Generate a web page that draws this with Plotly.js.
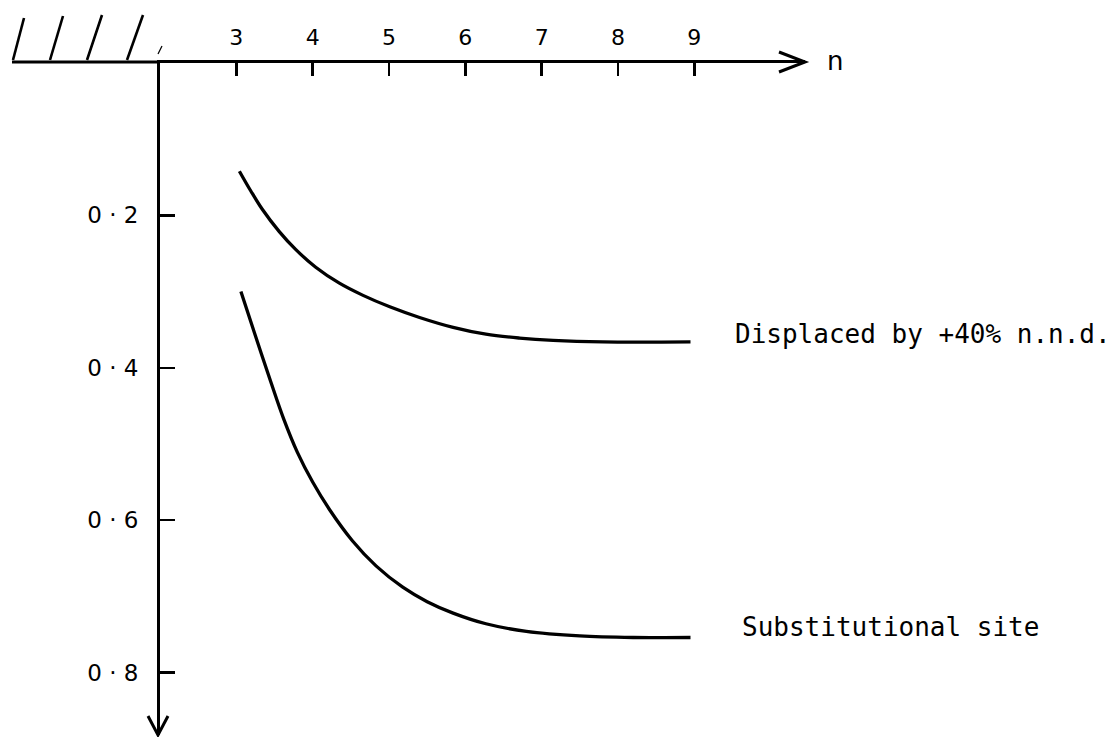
<!DOCTYPE html>
<html>
<head>
<meta charset="utf-8">
<script src="https://cdn.plot.ly/plotly-3.0.1.min.js"></script>
<style>
  html, body { margin: 0; padding: 0; background: #ffffff; }
  #chart { width: 1117px; height: 737px; }
</style>
</head>
<body>
<div id="chart"></div>
<script>
// Number of neighbours n along the top axis, energy shift plotted downward
const nTicks = [3, 4, 5, 6, 7, 8, 9];
const nTickText = ['3', '4', '5', '6', '7', '8', '9'];
const shiftTicks = [0.2, 0.4, 0.6, 0.8];
const shiftTickText = ['0 · 2', '0 · 4', '0 · 6', '0 · 8'];

// Displaced by +40% n.n.d.
const displacedN = [3.04, 3.19, 3.34, 3.56, 3.78, 4.04, 4.35, 4.66, 5.01, 5.40, 5.84, 6.27, 6.71, 7.15, 7.80, 8.95];
const displacedShift = [0.142, 0.168, 0.192, 0.221, 0.245, 0.268, 0.289, 0.305, 0.320, 0.334, 0.347, 0.356, 0.361, 0.364, 0.366, 0.366];

// Substitutional site
const substN = [3.06, 3.25, 3.45, 3.62, 3.80, 4.00, 4.22, 4.52, 4.83, 5.18, 5.50, 5.84, 6.27, 6.80, 7.50, 8.20, 8.95];
const substShift = [0.300, 0.358, 0.418, 0.467, 0.511, 0.550, 0.586, 0.627, 0.660, 0.688, 0.707, 0.722, 0.736, 0.746, 0.752, 0.754, 0.754];

const seriesNames = ['Displaced by +40% n.n.d.', 'Substitutional site'];

const nRange = [2, 10.45];
const shiftRange = [0.882, 0];

const ink = '#000000';
const font = 'DejaVu Sans, Liberation Sans, sans-serif';
const labelFont = 'DejaVu Sans Mono, Liberation Mono, monospace';

const curve = (x, y, name) => ({
  x: x, y: y, name: name, type: 'scatter', mode: 'lines',
  line: { color: ink, width: 3.3, shape: 'spline', smoothing: 1.0 },
  hoverinfo: 'x+y', showlegend: false
});

const traces = [
  curve(displacedN, displacedShift, seriesNames[0]),
  curve(substN, substShift, seriesNames[1])
];

// wall hatching left of the origin and open arrowheads on both axes,
// placed in pixels around corners of the plot area
const px = (anchorX, anchorY, path, w) => ({
  type: 'path', xref: 'paper', yref: 'paper',
  xsizemode: 'pixel', ysizemode: 'pixel',
  xanchor: anchorX, yanchor: anchorY,
  path: path, line: { color: ink, width: w || 3 }
});

const shapes = [
  px(0, 1, 'M-148,1 L0,1', 3),
  px(0, 1, 'M-147,3 L-136,45', 2.6),
  px(0, 1, 'M-110,3 L-97,47', 2.6),
  px(0, 1, 'M-73,3 L-58,48', 2.6),
  px(0, 1, 'M-33,3 L-17,48', 2.6),
  px(0, 1, 'M-2,9 L2,17', 1.2),
  px(1, 1, 'M-26,11 L0,1 L-26,-9', 3),
  px(0, 0, 'M-12,19 L-2,0 L8,19', 3)
];

const last = a => a[a.length - 1];

const annotations = [
  {
    x: last(displacedN), y: last(displacedShift), xref: 'x', yref: 'y',
    text: seriesNames[0], showarrow: false, xanchor: 'left', yanchor: 'middle',
    xshift: 42, yshift: 8, font: { family: labelFont, size: 26, color: ink }
  },
  {
    x: last(substN), y: last(substShift), xref: 'x', yref: 'y',
    text: seriesNames[1], showarrow: false, xanchor: 'left', yanchor: 'middle',
    xshift: 49, yshift: 10, font: { family: labelFont, size: 26, color: ink }
  },
  {
    x: nRange[1], y: 0, xref: 'x', yref: 'y',
    text: 'n', showarrow: false, xanchor: 'left', yanchor: 'middle',
    xshift: 20, yshift: 2, font: { family: font, size: 26, color: ink }
  }
];

const layout = {
  width: 1117, height: 737,
  margin: { l: 160, r: 312, t: 63, b: 2 },
  paper_bgcolor: '#ffffff', plot_bgcolor: '#ffffff',
  showlegend: false,
  xaxis: {
    range: nRange, side: 'top',
    showline: true, linecolor: ink, linewidth: 3,
    showgrid: false, zeroline: false,
    tickmode: 'array', tickvals: nTicks, ticktext: nTickText,
    ticks: 'inside', ticklen: 13, tickwidth: 2.5, tickcolor: ink,
    ticklabelstandoff: 6,
    tickfont: { family: font, size: 22, color: ink },
    fixedrange: true
  },
  yaxis: {
    range: shiftRange,
    showline: true, linecolor: ink, linewidth: 3,
    showgrid: false, zeroline: false,
    tickmode: 'array', tickvals: shiftTicks, ticktext: shiftTickText,
    ticks: 'inside', ticklen: 15, tickwidth: 2.5, tickcolor: ink,
    ticklabelstandoff: 14,
    tickfont: { family: font, size: 23, color: ink },
    fixedrange: true
  },
  shapes: shapes,
  annotations: annotations
};

Plotly.newPlot('chart', traces, layout, { displayModeBar: false, staticPlot: true });
</script>
</body>
</html>
